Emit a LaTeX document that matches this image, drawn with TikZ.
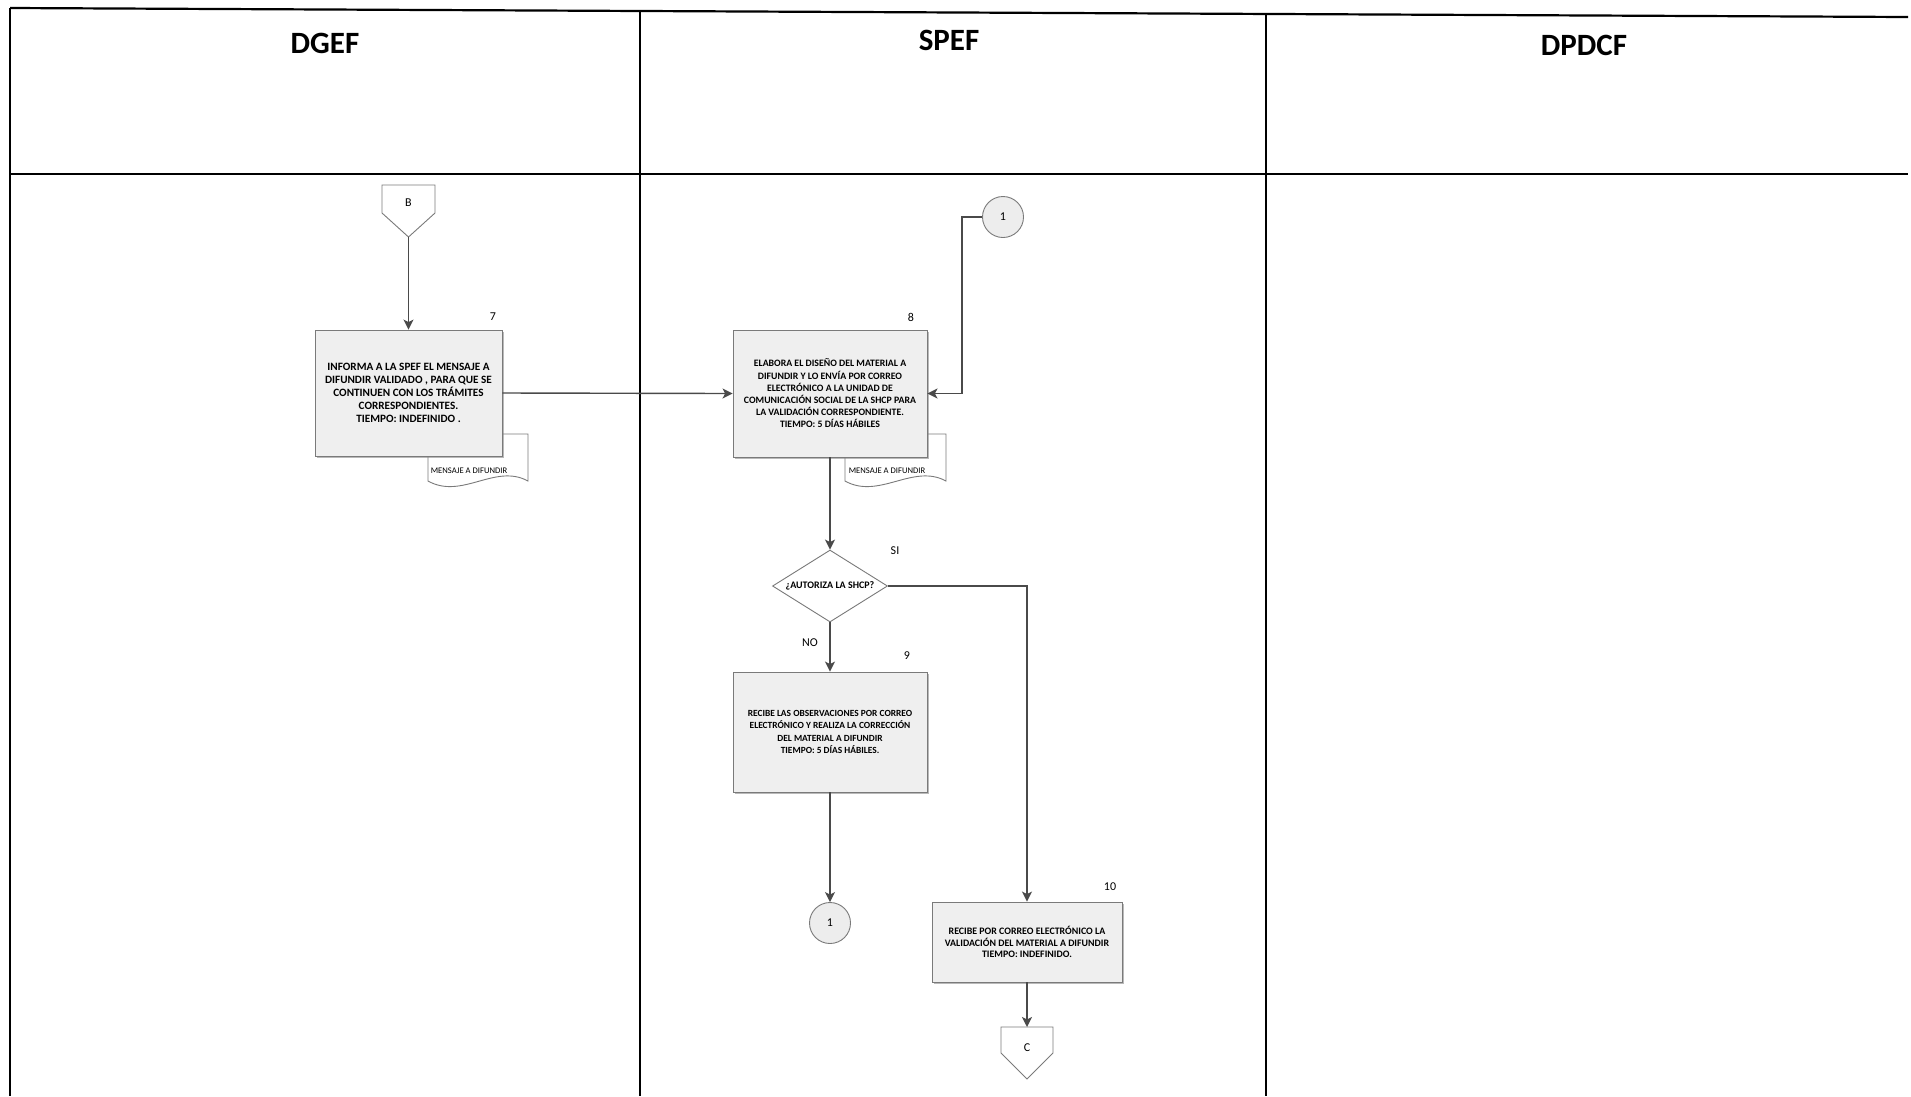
\documentclass[tikz,border=0pt]{standalone}
\usepackage{fontspec}
\setmainfont{Carlito}
\usetikzlibrary{shapes.geometric,arrows.meta,shadows,calc}

\definecolor{linegray}{HTML}{4A4A4A}
\definecolor{boxfill}{HTML}{EFEFEF}
\definecolor{boxline}{HTML}{7A7A7A}
\definecolor{circfill}{HTML}{EDEDED}

\begin{document}
\begin{tikzpicture}[x=1pt,y=-1pt,
  lane/.style={black, line width=1.5pt},
  lanetitle/.style={font=\fontsize{31}{36}\selectfont\bfseries, inner sep=0pt},
  procbox/.style={rectangle, draw=boxline, fill=boxfill, line width=0.9pt,
    align=center, inner sep=0pt, font=\fontsize{9.8}{12}\selectfont\bfseries,
    drop shadow={shadow xshift=1.6pt, shadow yshift=-1.6pt, fill=black!50, opacity=0.55}},
  docshape/.style={draw=boxline, fill=white, line width=0.9pt},
  doclabel/.style={font=\fontsize{8.6}{10}\selectfont, inner sep=0pt},
  decision/.style={diamond, aspect=1.6, draw=boxline, fill=white, line width=0.9pt,
    minimum width=115pt, minimum height=72pt, inner sep=0pt,
    font=\fontsize{10}{12}\selectfont\bfseries},
  connector/.style={circle, draw=boxline, fill=circfill, line width=0.9pt,
    minimum size=41pt, inner sep=0pt, font=\fontsize{12}{14}\selectfont},
  offpage/.style={draw=boxline, fill=white, line width=0.9pt},
  steplabel/.style={font=\fontsize{12}{14}\selectfont, inner sep=0pt},
  branchlabel/.style={font=\fontsize{12}{14}\selectfont, inner sep=0pt},
  flow/.style={draw=linegray, line width=1.4pt,
    -{Stealth[length=10pt,width=10pt,inset=2.5pt]}}
]
\useasboundingbox (0,0) rectangle (1911,1096);
\fill[white] (0,0) rectangle (1911,1096);

% swimlane frame
\draw[lane, line width=2.2pt] (10,8) -- (1908,17);
\draw[lane, line width=2.4pt] (10,174) -- (1908,174);
\draw[lane] (10,8) -- (10,1096);
\draw[lane] (640,11) -- (640,1096);
\draw[lane] (1266,14) -- (1266,1096);

\node[lanetitle] (tDGEF)  at (325,43)  {DGEF};
\node[lanetitle] (tSPEF)  at (949,40)  {SPEF};
\node[lanetitle] (tDPDCF) at (1584,45) {DPDCF};

% off-page connector B
\coordinate (Bc) at (408.5,203);
\draw[offpage] ($(Bc)+(-26.5,-18)$) -- ($(Bc)+(26.5,-18)$) -- ($(Bc)+(26.5,10)$)
  -- ($(Bc)+(0,34)$) -- ($(Bc)+(-26.5,10)$) -- cycle;
\node[steplabel] (B) at (Bc) {B};
\coordinate (Btip) at ($(Bc)+(0,34)$);

% documents behind the process boxes
\draw[docshape] (428,434) -- (528,434) -- (528,481)
  .. controls (495,463) and (462,500) .. (428,481) -- cycle;
\node[doclabel] (doc7) at (469,471) {MENSAJE A DIFUNDIR};
\draw[docshape] (845,434) -- (946,434) -- (946,481)
  .. controls (913,463) and (879,500) .. (845,481) -- cycle;
\node[doclabel] (doc8) at (887,471) {MENSAJE A DIFUNDIR};

% process boxes
\node[procbox, minimum width=187pt, minimum height=126pt,
  font=\fontsize{11.2}{12.9}\selectfont\bfseries] (b7) at (408.5,393)
  {INFORMA A LA SPEF EL MENSAJE A\\DIFUNDIR VALIDADO , PARA QUE SE\\CONTINUEN CON LOS TRÁMITES\\CORRESPONDIENTES.\\TIEMPO: INDEFINIDO .};
\node[procbox, minimum width=194pt, minimum height=127pt,
  font=\fontsize{9.8}{12.2}\selectfont\bfseries] (b8) at (830,393.5)
  {ELABORA EL DISEÑO DEL MATERIAL A\\DIFUNDIR Y LO ENVÍA POR CORREO\\ELECTRÓNICO A LA UNIDAD DE\\COMUNICACIÓN SOCIAL DE LA SHCP PARA\\LA VALIDACIÓN CORRESPONDIENTE.\\TIEMPO: 5 DÍAS HÁBILES};
\node[procbox, minimum width=194pt, minimum height=120pt,
  font=\fontsize{9.4}{12.3}\selectfont\bfseries] (b9) at (830,732)
  {RECIBE LAS OBSERVACIONES POR CORREO\\ELECTRÓNICO Y REALIZA LA CORRECCIÓN\\DEL MATERIAL A DIFUNDIR\\TIEMPO: 5 DÍAS HÁBILES.};
\node[procbox, minimum width=190pt, minimum height=80pt,
  font=\fontsize{9.9}{11.2}\selectfont\bfseries] (b10) at (1027,942)
  {RECIBE POR CORREO ELECTRÓNICO LA\\VALIDACIÓN DEL MATERIAL A DIFUNDIR\\TIEMPO: INDEFINIDO.};

% step numbers
\node[steplabel] (n7)  at (493,317) {7};
\node[steplabel] (n8)  at (911,317) {8};
\node[steplabel] (n9)  at (907,656) {9};
\node[steplabel] (n10) at (1110,887) {10};

% decision
\node[decision] (q) at (830,586) {¿AUTORIZA LA SHCP?};
\node[branchlabel] (si) at (895,551) {SI};
\node[branchlabel] (no) at (810,643) {NO};

% on-page connectors
\node[connector] (c1a) at (1003,217) {1};
\node[connector] (c1b) at (830,923) {1};

% off-page connector C
\coordinate (Cc) at (1027,1048);
\draw[offpage] ($(Cc)+(-26,-21)$) -- ($(Cc)+(26,-21)$) -- ($(Cc)+(26,5)$)
  -- ($(Cc)+(0,31)$) -- ($(Cc)+(-26,5)$) -- cycle;
\node[steplabel] (C) at (Cc) {C};
\coordinate (Ctop) at ($(Cc)+(0,-21)$);

% connectors
\draw[flow] (Btip) -- (b7.north);
\draw[flow] (b7.east) -- (b8.west);
\draw[flow] (c1a.west) -- ++(-20,0) |- (b8.east);
\draw[flow] (b8.south) -- (q.north);
\draw[flow] (q.south) -- (b9.north);
\draw[flow] (q.east) -| (b10.north);
\draw[flow] (b9.south) -- (c1b.north);
\draw[flow] (b10.south) -- (Ctop);
\end{tikzpicture}
\end{document}
